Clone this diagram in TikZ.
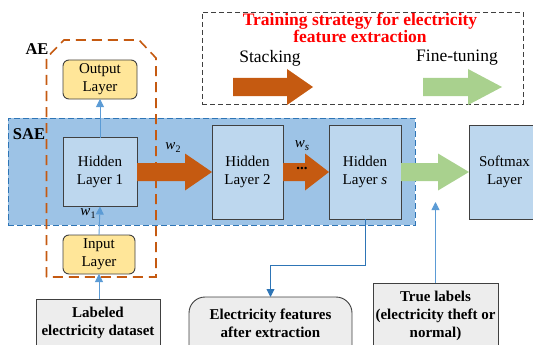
\documentclass[tikz,border=0pt]{standalone}
\usepackage{fontspec}
\setmainfont{Liberation Serif}
\usetikzlibrary{calc,arrows.meta}
\definecolor{brn}{HTML}{C55A11}
\definecolor{grn}{HTML}{A9D18E}
\definecolor{saefill}{HTML}{9DC3E6}
\definecolor{saeline}{HTML}{2E75B6}
\definecolor{hid}{HTML}{BDD7EE}
\definecolor{yel}{HTML}{FFE699}
\definecolor{gbox}{HTML}{EDEDED}
\definecolor{bord}{HTML}{404040}
\definecolor{lblue}{HTML}{5B9BD5}
\newcommand\legarrow[5]{\fill[#5] (#1,#4-9) -- (#2,#4-9) -- (#2,#4-18) -- (#3,#4) -- (#2,#4+18) -- (#2,#4+9) -- (#1,#4+9) -- cycle;}
\newcommand\linkarrow[4]{\fill[#4] ($(#1.east |- #2.west)+(0,-9)$) -- ($(#2.west)+(-#3,-9)$) -- ($(#2.west)+(-#3,-18.5)$) -- (#2.west) -- ($(#2.west)+(-#3,18.5)$) -- ($(#2.west)+(-#3,9)$) -- ($(#1.east |- #2.west)+(0,9)$) -- cycle;}
\begin{document}
\begin{tikzpicture}[x=1pt,y=-1pt,
  every node/.style={font=\fontsize{15}{18}\selectfont, inner sep=0pt, outer sep=0pt},
  layer/.style={draw=bord, line width=0.9pt, fill=hid, align=center},
  io/.style={draw=bord, line width=0.9pt, fill=yel, rounded corners=6pt, align=center},
  graybox/.style={draw=bord, line width=0.9pt, fill=gbox},
  lbl/.style={font=\bfseries\fontsize{15}{18}\selectfont, align=center},
  thinarr/.style={draw=lblue, line width=0.9pt, -{Triangle[length=8pt,width=8pt]}},
  darkarr/.style={draw=saeline, line width=0.9pt, -{Triangle[length=8pt,width=8pt]}},
]
\useasboundingbox (0,0) rectangle (533,345);

% legend
\node[draw=bord, line width=0.9pt, dash pattern=on 5pt off 3pt, minimum width=321pt, minimum height=92pt] (leg) at (362.5,58) {};
\node[text=red, font=\bfseries\fontsize{17.5}{17}\selectfont, align=center] (title) at (360,27.5) {Training strategy for electricity\\feature extraction};
\node[font=\fontsize{17.5}{18}\selectfont] (stk) at (270,58) {Stacking};
\node[font=\fontsize{17.5}{18}\selectfont] (ft) at (457,58) {Fine-tuning};
\legarrow{233}{287}{313}{87}{brn}
\legarrow{423}{468}{502}{87}{grn}

% SAE band
\node[fill=saefill, draw=saeline, line width=1pt, dash pattern=on 6pt off 3pt, minimum width=407pt, minimum height=107pt] (sae) at (211.5,171.5) {};
\node[lbl, font=\bfseries\fontsize{16.5}{18}\selectfont] (saelbl) at (29,134) {SAE};

% layers
\node[layer, minimum width=74pt, minimum height=69pt] (h1) at (100,172) {Hidden\\Layer 1};
\node[layer, minimum width=71pt, minimum height=94pt] (h2) at (247.5,172) {Hidden\\Layer 2};
\node[layer, minimum width=72pt, minimum height=94pt] (hs) at (365,172) {Hidden\\Layer \textit{s}};
\node[layer, minimum width=71pt, minimum height=94pt] (sm) at (504.5,172) {Softmax\\Layer};
\node[io, minimum width=74pt, minimum height=39pt] (out) at (100,79.5) {Output\\Layer};
\node[io, minimum width=72pt, minimum height=39pt] (in) at (99,254.5) {Input\\Layer};

% AE dashed outline
\draw[brn, line width=1.6pt, dash pattern=on 10pt off 6pt] (46.5,277) -- (46.5,58) -- (64,40) -- (139,40) -- (156,58) -- (156,277) -- cycle;
\node[lbl, font=\bfseries\fontsize{16.5}{18}\selectfont] (aelbl) at (37,49) {AE};

% fat arrows between layers
\linkarrow{h1}{h2}{27}{brn}
\linkarrow{h2}{hs}{24}{brn}
\linkarrow{hs}{sm}{31}{grn}
\node[font=\bfseries\fontsize{15}{18}\selectfont] (dots) at (302,168) {...};

% weights
\node (w1) at (88,214) {\textit{w}\raisebox{-3pt}{\fontsize{10}{10}\selectfont 1}};
\node (w2) at (173,148) {\textit{w}\raisebox{-3pt}{\fontsize{10}{10}\selectfont 2}};
\node (ws) at (302,146) {\textit{w}\raisebox{-3pt}{\fontsize{11}{11}\selectfont\itshape s}};

% bottom boxes
\node[graybox, minimum width=124pt, minimum height=70pt] (lab) at (98,334) {};
\node[lbl] (labt) at (98,323) {Labeled\\electricity dataset};
\node[graybox, rounded corners=16pt, minimum width=163pt, minimum height=80pt] (feat) at (270.5,337) {};
\node[lbl] (featt) at (270.5,323) {Electricity features\\after extraction};
\node[graybox, minimum width=125pt, minimum height=84pt] (tl) at (435.5,325) {};
\node[lbl] (tlt) at (435.5,316) {True labels\\(electricity theft or\\normal)};

% thin connectors
\draw[thinarr] (h1.north) -- (out.south);
\draw[thinarr] (in.north) -- (h1.south);
\draw[thinarr] (lab.north -| in.south) -- (in.south);
\coordinate (bend) at (365,265);
\draw[darkarr] (hs.south) -- (bend) -| (feat.north);
\coordinate (tlend) at (435.5,202);
\draw[thinarr] (tl.north) -- (tlend);
\end{tikzpicture}
\end{document}
